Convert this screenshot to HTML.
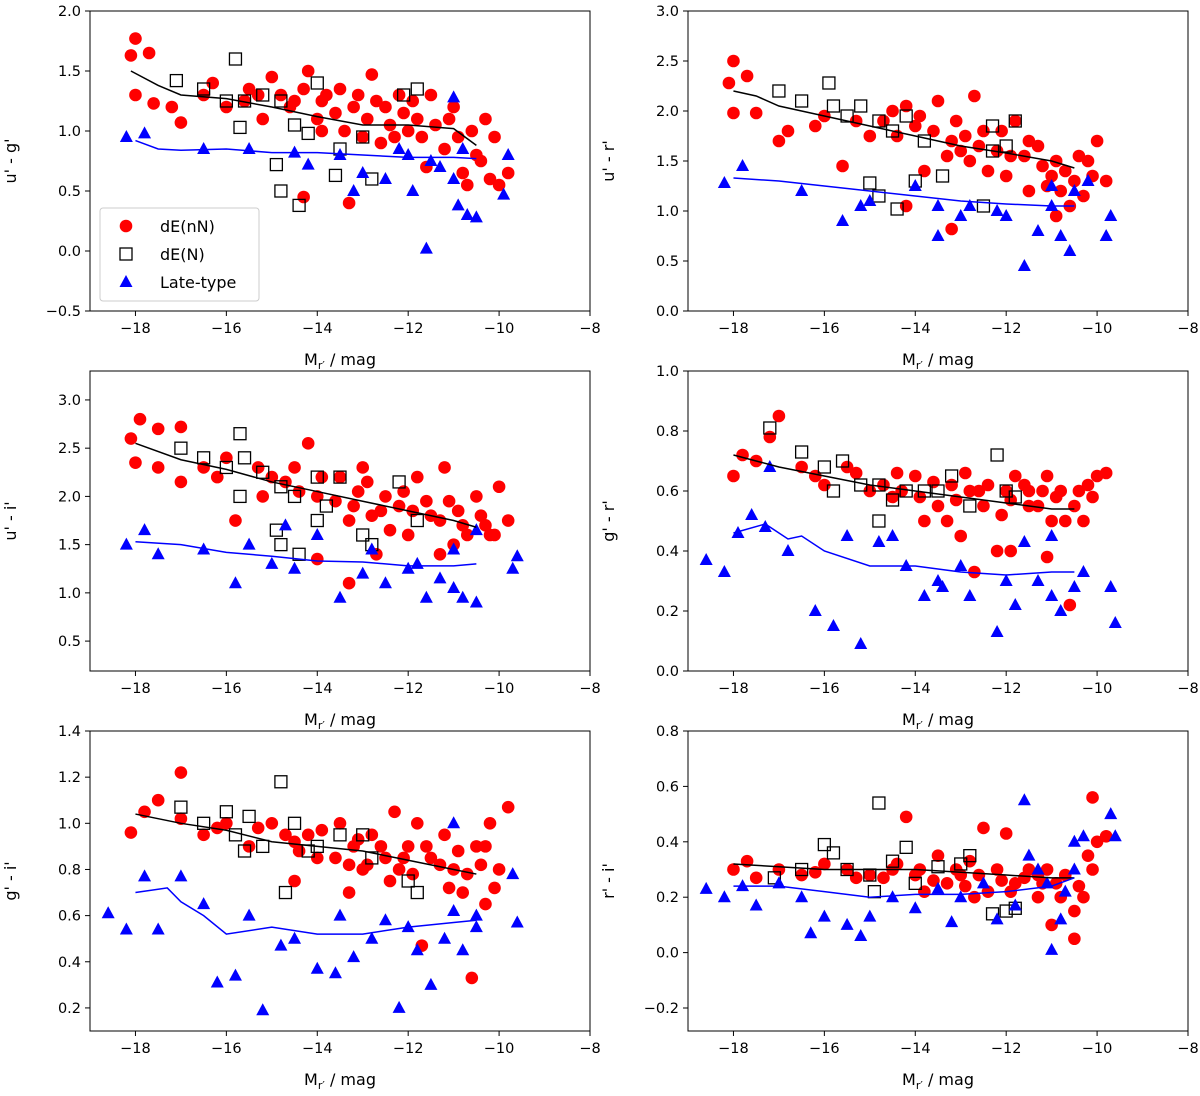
<!DOCTYPE html>
<html><head><meta charset="utf-8"><style>
body{margin:0;background:#fff;}
svg{display:block;font-family:"DejaVu Sans","Liberation Sans",sans-serif;}
</style></head><body>
<svg id="fig" width="1200" height="1096" viewBox="0 0 1200 1096" xmlns="http://www.w3.org/2000/svg"></svg>
<script>
const xTicks=[-18,-16,-14,-12,-10,-8];
const panelLabels=["u' - g'","u' - r'","u' - i'","g' - r'","g' - i'","r' - i'"];
const yTickSets=[["2.0","1.5","1.0","0.5","0.0","\u22120.5"],["3.0","2.5","2.0","1.5","1.0","0.5","0.0"],["3.0","2.5","2.0","1.5","1.0","0.5"],["1.0","0.8","0.6","0.4","0.2","0.0"],["1.4","1.2","1.0","0.8","0.6","0.4","0.2"],["0.8","0.6","0.4","0.2","0.0","\u22120.2"]];
const yLims=[[-0.5,2.0],[0,3.0],[0.19,3.3],[0,1.0],[0.1,1.4],[-0.283,0.8]];

const p1Red=[[-18.1,1.63],[-18,1.77],[-17.7,1.65],[-18,1.3],[-17.6,1.23],[-17.2,1.2],[-17,1.07],[-16.5,1.3],[-16,1.2],[-15.5,1.35],[-15,1.45],[-14.8,1.3],[-14.5,1.25],[-14.2,1.5],[-14,1.1],[-13.8,1.3],[-13.5,1.35],[-13.2,1.2],[-13,0.95],[-12.8,1.47],[-12.5,1.2],[-12.2,1.3],[-12,1.0],[-11.8,1.1],[-11.5,1.3],[-11.2,0.85],[-11,1.2],[-10.8,0.65],[-10.5,0.8],[-10.3,1.1],[-10.2,0.6],[-10,0.55],[-9.8,0.65],[-13.3,0.4],[-14.3,0.45],[-12.6,0.9],[-11.6,0.7],[-15.2,1.1],[-13.9,1.0],[-12.9,1.1],
[-14.6,1.2],[-14.3,1.35],[-13.9,1.25],[-13.6,1.15],[-13.1,1.3],[-12.7,1.25],[-12.4,1.05],[-12.1,1.15],[-11.9,1.25],[-11.4,1.05],[-11.1,1.1],[-10.9,0.95],[-10.6,1.0],[-10.4,0.75],[-15.6,1.25],[-16.3,1.4],[-15.3,1.3],[-13.4,1.0],[-12.3,0.95],[-11.7,0.95],[-10.7,0.55],[-10.1,0.95]];
const p1Sq=[[-17.1,1.42],[-16.5,1.35],[-16,1.25],[-15.8,1.6],[-15.6,1.25],[-15.2,1.3],[-14.8,1.25],[-14.5,1.05],[-14.2,0.98],[-14,1.4],[-13.5,0.85],[-14.8,0.5],[-14.4,0.38],[-13.6,0.63],[-13,0.95],[-12.8,0.6],[-12.1,1.3],[-11.8,1.35],[-15.7,1.03],[-14.9,0.72]];
const p1Blue=[[-18.2,0.95],[-17.8,0.98],[-16.5,0.85],[-15.5,0.85],[-14.2,0.72],[-13.5,0.8],[-13,0.65],[-12.5,0.6],[-12,0.8],[-11.6,0.02],[-11.3,0.7],[-11,0.6],[-10.9,0.38],[-10.7,0.3],[-10.5,0.28],[-11,1.28],[-10.8,0.85],[-11.5,0.75],[-12.2,0.85],[-9.8,0.8],[-9.9,0.47],[-11.9,0.5],[-13.2,0.5],[-14.5,0.82]];
const p1LineK=[[-18.1,1.5],[-17.5,1.38],[-17,1.3],[-16,1.27],[-15,1.2],[-14,1.12],[-13,1.05],[-12,1.05],[-11,1.02],[-10.5,0.88]];
const p1LineB=[[-18,0.92],[-17.5,0.85],[-17,0.84],[-16,0.85],[-15,0.82],[-14,0.82],[-13,0.8],[-12,0.78],[-11,0.78],[-10.5,0.77]];

const p2Red=[[-18.1,2.28],[-18,2.5],[-17.7,2.35],[-18,1.98],[-17.5,1.98],[-17,1.7],[-16.8,1.8],[-16,1.95],[-15.6,1.45],[-15,1.75],[-14.5,2.0],[-14.2,2.05],[-14,1.85],[-13.5,2.1],[-13.2,1.7],[-13,1.6],[-12.8,1.5],[-12.5,1.8],[-12.2,1.6],[-12,1.35],[-11.8,1.9],[-11.5,1.7],[-11.2,1.45],[-11,1.35],[-10.8,1.2],[-10.5,1.3],[-10.2,1.5],[-10,1.7],[-9.8,1.3],[-10.6,1.05],[-13.2,0.82],[-14.2,1.05],[-12.7,2.15],[-13.8,1.4],[-11.5,1.2],[-10.9,0.95],
[-14.7,1.9],[-14.4,1.75],[-13.9,1.95],[-13.6,1.8],[-13.1,1.9],[-12.9,1.75],[-12.6,1.65],[-12.1,1.8],[-11.9,1.55],[-11.6,1.55],[-11.3,1.65],[-10.9,1.5],[-10.7,1.4],[-10.4,1.55],[-15.3,1.9],[-16.2,1.85],[-13.3,1.55],[-12.4,1.4],[-11.1,1.25],[-10.3,1.15],[-10.1,1.35]];
const p2Sq=[[-17,2.2],[-16.5,2.1],[-15.9,2.28],[-15.8,2.05],[-15.5,1.95],[-15.2,2.05],[-14.8,1.9],[-14.5,1.8],[-14.2,1.95],[-13.8,1.7],[-15,1.28],[-14.8,1.15],[-14.4,1.02],[-14,1.3],[-13.4,1.35],[-12.5,1.05],[-12.3,1.6],[-12,1.65],[-11.8,1.9],[-12.3,1.85]];
const p2Blue=[[-18.2,1.28],[-17.8,1.45],[-16.5,1.2],[-15.6,0.9],[-15,1.1],[-14,1.25],[-13.5,1.05],[-13,0.95],[-12.8,1.05],[-12.2,1.0],[-11.6,0.45],[-11.3,0.8],[-11,1.05],[-10.8,0.75],[-10.6,0.6],[-11,1.25],[-10.5,1.2],[-9.8,0.75],[-9.7,0.95],[-10.2,1.3],[-12,0.95],[-13.5,0.75],[-15.2,1.05]];
const p2LineK=[[-18,2.2],[-17.5,2.15],[-17,2.05],[-16,1.95],[-15,1.85],[-14,1.75],[-13,1.65],[-12,1.58],[-11,1.5],[-10.5,1.43]];
const p2LineB=[[-18,1.33],[-17,1.3],[-16,1.25],[-15,1.2],[-14,1.15],[-13,1.1],[-12,1.07],[-11,1.05],[-10.5,1.05]];

const p3Red=[[-18.1,2.6],[-17.9,2.8],[-17.5,2.7],[-18,2.35],[-17.5,2.3],[-17,2.15],[-17,2.72],[-16.5,2.3],[-16,2.4],[-15.8,1.75],[-15,2.2],[-14.5,2.3],[-14.2,2.55],[-14,2.0],[-13.5,2.2],[-13.2,1.9],[-13,2.3],[-12.8,1.8],[-12.5,2.0],[-12.2,1.9],[-12,1.6],[-11.8,2.2],[-11.5,1.8],[-11.2,2.3],[-11,1.5],[-10.8,1.7],[-10.5,2.0],[-10.2,1.6],[-10,2.1],[-9.8,1.75],[-13.3,1.1],[-14,1.35],[-15.2,2.0],[-12.7,1.4],[-11.3,1.4],
[-14.7,2.15],[-14.4,2.05],[-13.9,2.2],[-13.6,1.95],[-13.1,2.05],[-12.9,2.15],[-12.6,1.85],[-12.1,2.05],[-11.9,1.85],[-11.6,1.95],[-11.3,1.75],[-10.9,1.85],[-10.7,1.6],[-10.4,1.8],[-15.3,2.3],[-16.2,2.2],[-13.3,1.75],[-12.4,1.65],[-11.1,1.95],[-10.3,1.7],[-10.1,1.6]];
const p3Sq=[[-17,2.5],[-16.5,2.4],[-16,2.3],[-15.7,2.65],[-15.6,2.4],[-15.2,2.25],[-14.8,2.1],[-14.5,2.0],[-14,2.2],[-13.8,1.9],[-14.9,1.65],[-14.8,1.5],[-14.4,1.4],[-14,1.75],[-13.5,2.2],[-13,1.6],[-12.8,1.5],[-12.2,2.15],[-11.8,1.75],[-15.7,2.0]];
const p3Blue=[[-18.2,1.5],[-17.8,1.65],[-17.5,1.4],[-16.5,1.45],[-15.8,1.1],[-15.5,1.5],[-15,1.3],[-14.5,1.25],[-14,1.6],[-13.5,0.95],[-13,1.2],[-12.5,1.1],[-12,1.25],[-11.6,0.95],[-11.3,1.15],[-11,1.05],[-10.8,0.95],[-10.5,0.9],[-11,1.45],[-10.5,1.65],[-9.7,1.25],[-9.6,1.38],[-11.8,1.3],[-14.7,1.7],[-12.8,1.45]];
const p3LineK=[[-18,2.55],[-17,2.38],[-16,2.28],[-15,2.15],[-14,2.05],[-13,1.95],[-12,1.85],[-11,1.75],[-10.5,1.68]];
const p3LineB=[[-18,1.53],[-17,1.5],[-16,1.42],[-15,1.38],[-14,1.33],[-13,1.32],[-12,1.28],[-11,1.28],[-10.5,1.3]];

const p4Red=[[-18,0.65],[-17.8,0.72],[-17.5,0.7],[-17,0.85],[-17.2,0.78],[-16.5,0.68],[-16,0.62],[-15.5,0.68],[-15,0.6],[-14.5,0.58],[-14,0.65],[-13.5,0.55],[-13,0.45],[-13.2,0.62],[-12.8,0.6],[-12.5,0.55],[-12.2,0.4],[-12,0.6],[-11.8,0.65],[-11.5,0.55],[-11.2,0.6],[-11,0.5],[-10.8,0.6],[-10.5,0.55],[-10.2,0.62],[-10,0.65],[-9.8,0.66],[-11.9,0.4],[-11.1,0.38],[-10.6,0.22],[-11.5,0.6],[-12.7,0.33],[-14.3,0.6],[-13.8,0.5],
[-14.7,0.62],[-14.4,0.66],[-13.9,0.58],[-13.6,0.63],[-13.1,0.57],[-12.9,0.66],[-12.6,0.6],[-12.1,0.52],[-11.9,0.57],[-11.6,0.62],[-11.3,0.55],[-10.9,0.58],[-10.7,0.5],[-10.4,0.6],[-15.3,0.66],[-16.2,0.65],[-13.3,0.5],[-12.4,0.62],[-11.1,0.65],[-10.3,0.5],[-10.1,0.58]];
const p4Sq=[[-17.2,0.81],[-16.5,0.73],[-16,0.68],[-15.6,0.7],[-15.2,0.62],[-14.8,0.62],[-14.5,0.57],[-14.2,0.6],[-13.8,0.6],[-13.2,0.65],[-12.8,0.55],[-12.2,0.72],[-12,0.6],[-11.8,0.58],[-14.8,0.5],[-13.5,0.6],[-15.8,0.6]];
const p4Blue=[[-18.6,0.37],[-18.2,0.33],[-17.9,0.46],[-17.6,0.52],[-17.3,0.48],[-17.2,0.68],[-16.8,0.4],[-16.2,0.2],[-15.8,0.15],[-15.5,0.45],[-15.2,0.09],[-14.8,0.43],[-14.2,0.35],[-13.8,0.25],[-13.5,0.3],[-13,0.35],[-12.8,0.25],[-12.2,0.13],[-12,0.3],[-11.6,0.43],[-11.3,0.3],[-11,0.25],[-10.8,0.2],[-10.5,0.28],[-11,0.45],[-10.3,0.33],[-9.7,0.28],[-9.6,0.16],[-11.8,0.22],[-14.5,0.45],[-13.4,0.28]];
const p4LineK=[[-18,0.72],[-17,0.68],[-16,0.65],[-15,0.62],[-14,0.6],[-13,0.58],[-12,0.56],[-11,0.54],[-10.5,0.54]];
const p4LineB=[[-18,0.46],[-17.3,0.49],[-16.8,0.44],[-16.5,0.45],[-16,0.4],[-15,0.35],[-14,0.35],[-13,0.33],[-12,0.32],[-11,0.33],[-10.5,0.33]];

const p5Red=[[-18.1,0.96],[-17.8,1.05],[-17.5,1.1],[-17,1.22],[-17,1.02],[-16.5,0.95],[-16,1.0],[-15.5,0.9],[-15,1.0],[-14.5,0.92],[-14.2,0.95],[-14,0.85],[-13.5,1.0],[-13,0.8],[-13.2,0.9],[-12.8,0.95],[-12.5,0.85],[-12.2,0.8],[-12,0.9],[-11.8,1.0],[-11.5,0.85],[-11.2,0.95],[-11,0.8],[-10.8,0.7],[-10.5,0.9],[-10.2,1.0],[-10,0.8],[-9.8,1.07],[-10.6,0.33],[-11.7,0.47],[-13.3,0.7],[-14.5,0.75],[-10.3,0.65],[-12.3,1.05],
[-14.7,0.95],[-14.4,0.88],[-13.9,0.97],[-13.6,0.85],[-13.1,0.93],[-12.9,0.82],[-12.6,0.9],[-12.1,0.85],[-11.9,0.78],[-11.6,0.9],[-11.3,0.82],[-10.9,0.88],[-10.7,0.78],[-10.4,0.82],[-15.3,0.98],[-16.2,0.98],[-13.3,0.82],[-12.4,0.75],[-11.1,0.72],[-10.3,0.9],[-10.1,0.72]];
const p5Sq=[[-17,1.07],[-16.5,1.0],[-16,1.05],[-15.8,0.95],[-15.5,1.03],[-15.2,0.9],[-14.8,1.18],[-14.5,1.0],[-14.2,0.88],[-14,0.9],[-13.5,0.95],[-13,0.95],[-12.8,0.85],[-12,0.75],[-11.8,0.7],[-14.7,0.7],[-15.6,0.88]];
const p5Blue=[[-18.6,0.61],[-18.2,0.54],[-17.8,0.77],[-17.5,0.54],[-17,0.77],[-16.5,0.65],[-16.2,0.31],[-15.8,0.34],[-15.5,0.6],[-15.2,0.19],[-14.8,0.47],[-14.5,0.5],[-14,0.37],[-13.6,0.35],[-13.2,0.42],[-12.8,0.5],[-12.2,0.2],[-12,0.55],[-11.5,0.3],[-11.2,0.5],[-11,0.62],[-10.8,0.45],[-10.5,0.55],[-11,1.0],[-10.5,0.6],[-9.7,0.78],[-9.6,0.57],[-11.8,0.45],[-13.5,0.6],[-12.5,0.58]];
const p5LineK=[[-18,1.04],[-17,1.0],[-16,0.97],[-15,0.92],[-14,0.9],[-13,0.88],[-12,0.84],[-11,0.8],[-10.5,0.78]];
const p5LineB=[[-18,0.7],[-17.3,0.72],[-17,0.66],[-16.5,0.6],[-16,0.52],[-15,0.55],[-14,0.52],[-13,0.52],[-12,0.55],[-11,0.57],[-10.5,0.58]];

const p6Red=[[-18,0.3],[-17.7,0.33],[-17.5,0.27],[-17,0.3],[-16.5,0.28],[-16,0.32],[-15.5,0.3],[-15,0.28],[-14.5,0.3],[-14.2,0.49],[-14,0.28],[-13.5,0.35],[-13,0.28],[-12.8,0.33],[-12.5,0.45],[-12.2,0.3],[-12,0.43],[-11.8,0.25],[-11.5,0.3],[-11.2,0.25],[-11,0.1],[-10.8,0.2],[-10.5,0.15],[-10.5,0.05],[-10.2,0.35],[-10,0.4],[-10.1,0.56],[-9.8,0.42],[-12.7,0.2],[-13.8,0.22],[-11.3,0.28],
[-14.7,0.27],[-14.4,0.32],[-13.9,0.3],[-13.6,0.26],[-13.1,0.3],[-12.9,0.24],[-12.6,0.28],[-12.1,0.26],[-11.9,0.22],[-11.6,0.27],[-11.3,0.2],[-10.9,0.25],[-10.7,0.28],[-10.4,0.24],[-15.3,0.27],[-16.2,0.29],[-13.3,0.25],[-12.4,0.22],[-11.1,0.3],[-10.3,0.2],[-10.1,0.3]];
const p6Sq=[[-17.1,0.27],[-16.5,0.3],[-16,0.39],[-15.8,0.36],[-15.5,0.3],[-15,0.28],[-14.8,0.54],[-14.5,0.33],[-14.2,0.38],[-14,0.25],[-13.5,0.31],[-13,0.32],[-12.8,0.35],[-12.3,0.14],[-12,0.15],[-11.8,0.16],[-14.9,0.22]];
const p6Blue=[[-18.6,0.23],[-18.2,0.2],[-17.8,0.24],[-17.5,0.17],[-17,0.25],[-16.5,0.2],[-16,0.13],[-15.5,0.1],[-15.2,0.06],[-15,0.13],[-14.5,0.2],[-14,0.16],[-13.5,0.23],[-13,0.2],[-12.5,0.25],[-12.2,0.12],[-11.8,0.17],[-11.6,0.55],[-11.3,0.3],[-11.1,0.25],[-11,0.01],[-10.8,0.12],[-10.5,0.3],[-10.5,0.4],[-10.3,0.42],[-9.7,0.5],[-9.6,0.42],[-11.5,0.35],[-10.7,0.22],[-13.2,0.11],[-16.3,0.07]];
const p6LineK=[[-18,0.32],[-17,0.31],[-16,0.3],[-15,0.3],[-14,0.3],[-13,0.29],[-12,0.28],[-11,0.27],[-10.5,0.27]];
const p6LineB=[[-18,0.24],[-17,0.24],[-16,0.22],[-15,0.2],[-14,0.21],[-13,0.21],[-12,0.22],[-11,0.24],[-10.5,0.27]];

const reds=[p1Red,p2Red,p3Red,p4Red,p5Red,p6Red];
const sqs=[p1Sq,p2Sq,p3Sq,p4Sq,p5Sq,p6Sq];
const blues=[p1Blue,p2Blue,p3Blue,p4Blue,p5Blue,p6Blue];
const linesK=[p1LineK,p2LineK,p3LineK,p4LineK,p5LineK,p6LineK];
const linesB=[p1LineB,p2LineB,p3LineB,p4LineB,p5LineB,p6LineB];

const NS='http://www.w3.org/2000/svg';
const svg=document.getElementById('fig');
function mk(tag,attrs,parent){const e=document.createElementNS(NS,tag);for(const k in attrs)e.setAttribute(k,attrs[k]);(parent||svg).appendChild(e);return e;}
const W=500,H=300,X0=[90,688],Y0=[11,371,731];
for(let p=0;p<6;p++){
  const left=X0[p%2],top=Y0[Math.floor(p/2)];
  const [ymin,ymax]=yLims[p];
  const sx=v=>left+(v+19)/11*W;
  const sy=v=>top+(ymax-v)/(ymax-ymin)*H;
  const g=mk('g',{});
  
  
  const cp='cp'+p;
  const cl=mk('clipPath',{id:cp},g);mk('rect',{x:left,y:top,width:W,height:H},cl);
  const marks=mk('g',{'clip-path':'url(#'+cp+')'},g);
  reds[p].forEach(d=>{const c=mk('circle',{cx:sx(d[0]),cy:sy(d[1]),r:6.3,fill:'#ff0000'},marks);
    });
  sqs[p].forEach(d=>{const r=mk('rect',{x:sx(d[0])-6,y:sy(d[1])-6,width:12,height:12,fill:'none',stroke:'#000','stroke-width':1.3},marks);
    });
  blues[p].forEach(d=>{const x=sx(d[0]),y=sy(d[1]);const t=mk('polygon',{points:`${x},${y-7} ${x-6.5},${y+5} ${x+6.5},${y+5}`,fill:'#0000ff'},marks);
    });
  const lk=mk('polyline',{points:linesK[p].map(d=>sx(d[0])+','+sy(d[1])).join(' '),fill:'none',stroke:'#000','stroke-width':1.5},marks);
  
  const lb=mk('polyline',{points:linesB[p].map(d=>sx(d[0])+','+sy(d[1])).join(' '),fill:'none',stroke:'#0000ff','stroke-width':1.5},marks);
  
  const fr=mk('rect',{x:left,y:top,width:W,height:H,fill:'none',stroke:'#000','stroke-width':1},g);
  
  xTicks.forEach(v=>{const x=sx(v);mk('line',{x1:x,x2:x,y1:top+H,y2:top+H+5,stroke:'#000'},g);
    const t=mk('text',{x:x,y:top+H+22,'text-anchor':'middle','font-size':14.5},g);t.textContent=String(v).replace('-','\u2212');
    });
  yTickSets[p].forEach(s=>{const v=parseFloat(s.replace('\u2212','-'));const y=sy(v);
    mk('line',{x1:left-5,x2:left,y1:y,y2:y,stroke:'#000'},g);
    const t=mk('text',{x:left-9,y:y+5,'text-anchor':'end','font-size':14.5},g);t.textContent=s;
    });
  const xl=mk('text',{x:left+W/2,y:top+H+54,'text-anchor':'middle','font-size':16},g);
  xl.innerHTML='M<tspan font-size="11" dy="4">r\u2032</tspan><tspan dy="-4"> / mag</tspan>';
  
  const yl=mk('text',{x:0,y:0,'text-anchor':'middle','font-size':16,transform:`translate(${left-74},${top+H/2}) rotate(-90)`},g);
  yl.textContent=panelLabels[p];
  
}
const lg=mk('g',{});


mk('rect',{x:100,y:208,width:159,height:93,rx:3,fill:'#fff','fill-opacity':0.85,stroke:'#ccc'},lg);
mk('circle',{cx:126,cy:226,r:6.3,fill:'#ff0000'},lg);
mk('rect',{x:120,y:248,width:12,height:12,fill:'none',stroke:'#000','stroke-width':1.3},lg);
mk('polygon',{points:'126,275 119.5,287 132.5,287',fill:'#0000ff'},lg);
[['dE(nN)',232],['dE(N)',260],['Late-type',288]].forEach(a=>{const t=mk('text',{x:160,y:a[1],'font-size':16},lg);t.textContent=a[0];
  });
</script>
</body></html>
